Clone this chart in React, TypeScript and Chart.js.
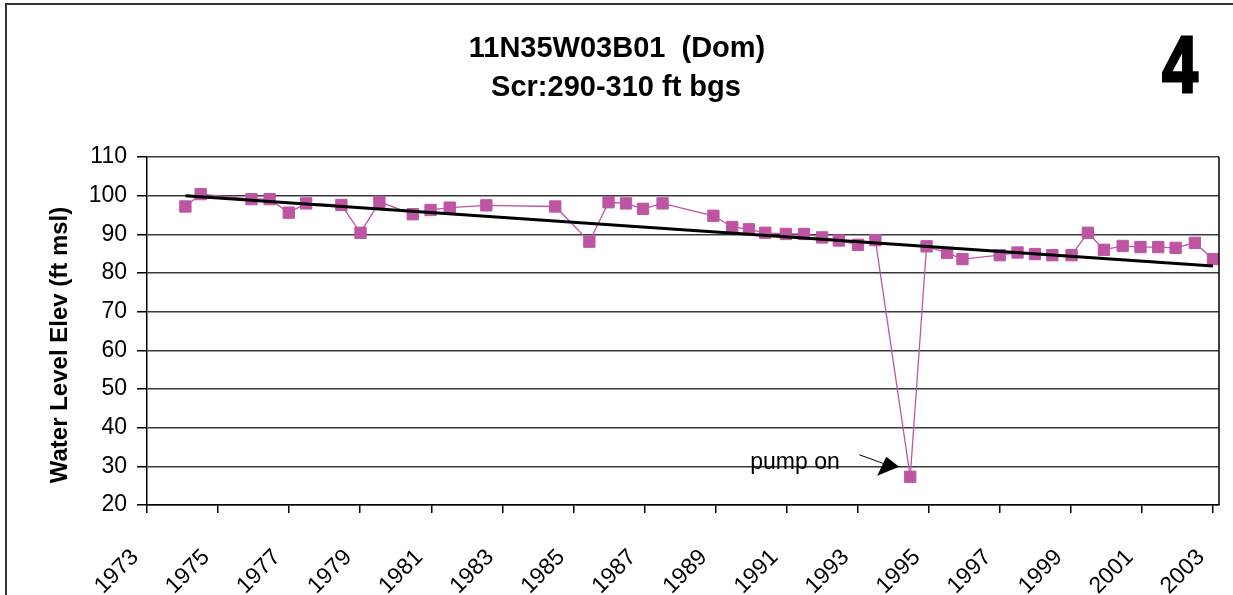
import React, { useEffect, useRef } from "react";
import { Chart, registerables } from "chart.js";

Chart.register(...registerables);

const titleLines = ["11N35W03B01  (Dom)", "Scr:290-310 ft bgs"];
const panelNumber = "4";
const yAxisTitle = "Water Level Elev (ft msl)";
const annotationText = "pump on";

const yearTicks = [1973, 1975, 1977, 1979, 1981, 1983, 1985, 1987, 1989, 1991, 1993, 1995, 1997, 1999, 2001, 2003];

const sampleYears = [
  1974.08, 1974.51, 1975.94, 1976.45, 1976.99, 1977.48, 1978.47, 1979.01, 1979.54, 1980.48,
  1980.98, 1981.52, 1982.55, 1984.49, 1985.45, 1985.99, 1986.48, 1986.96, 1987.51, 1988.94,
  1989.47, 1989.94, 1990.4, 1990.98, 1991.49, 1992.0, 1992.47, 1993.01, 1993.5, 1994.48,
  1994.94, 1995.52, 1995.95, 1997.0, 1997.5, 1997.99, 1998.48, 1999.02, 1999.48, 1999.93,
  2000.46, 2000.96, 2001.46, 2001.95, 2002.49, 2003.0,
];
const waterLevels = [
  97.2, 100.4, 99.1, 99.1, 95.6, 98.0, 97.6, 90.4, 98.4, 95.2,
  96.3, 96.9, 97.5, 97.2, 88.1, 98.3, 98.0, 96.6, 98.0, 94.8,
  91.9, 91.3, 90.4, 90.1, 90.1, 89.2, 88.4, 87.3, 88.5, 27.3,
  86.9, 85.2, 83.6, 84.6, 85.3, 84.9, 84.6, 84.6, 90.4, 86.0,
  87.0, 86.7, 86.7, 86.5, 87.8, 83.6,
];
const pumpOnIndex = 29;

const trendYears = [1974.08, 2003.0];
const trendLevels = [100.0, 81.8];

const FONT = "'Liberation Sans', Arial, Helvetica, sans-serif";
const SERIES_COLOR = "#BE55A3";

export default function App() {
  const canvasRef = useRef<HTMLCanvasElement | null>(null);

  useEffect(() => {
    document.body.style.margin = "0";
    const canvas = canvasRef.current;
    if (!canvas) return;

    const decorPlugin = {
      id: "decor",
      beforeDraw(chart: any) {
        const ctx = chart.ctx;
        ctx.save();
        ctx.fillStyle = "#ffffff";
        ctx.fillRect(0, 0, chart.width, chart.height);
        ctx.restore();
      },
      afterDraw(chart: any) {
        const ctx = chart.ctx;
        const area = chart.chartArea;
        ctx.save();
        // frame
        ctx.strokeStyle = "#333333";
        ctx.lineWidth = 2;
        ctx.beginPath();
        ctx.moveTo(6, chart.height);
        ctx.lineTo(6, 4);
        ctx.lineTo(chart.width, 4);
        ctx.stroke();

        // plot area right border
        ctx.strokeStyle = "#000000";
        ctx.lineWidth = 1.5;
        ctx.beginPath();
        ctx.moveTo(area.right, area.top);
        ctx.lineTo(area.right, area.bottom);
        ctx.stroke();

        // title
        ctx.fillStyle = "#000000";
        ctx.textAlign = "center";
        ctx.textBaseline = "alphabetic";
        ctx.font = `bold 29px ${FONT}`;
        ctx.fillText(titleLines[0], 617, 57);
        ctx.fillText(titleLines[1], 616, 96);

        // panel number
        ctx.save();
        ctx.translate(1180, 92);
        ctx.scale(0.8, 1);
        ctx.font = `bold 80px ${FONT}`;
        ctx.lineWidth = 3;
        ctx.strokeStyle = "#000";
        ctx.textAlign = "center";
        ctx.fillText(panelNumber, 0, 0);
        ctx.strokeText(panelNumber, 0, 0);
        ctx.restore();

        // y axis title
        ctx.save();
        ctx.translate(60, 345);
        ctx.rotate(-Math.PI / 2);
        ctx.font = `bold 24px ${FONT}`;
        ctx.textAlign = "center";
        ctx.textBaseline = "middle";
        ctx.fillText(yAxisTitle, 0, 0);
        ctx.restore();

        // annotation
        const xs = chart.scales.x;
        const ys = chart.scales.y;
        const px = xs.getPixelForValue(sampleYears[pumpOnIndex]);
        const py = ys.getPixelForValue(waterLevels[pumpOnIndex]);
        ctx.font = `23px ${FONT}`;
        ctx.textAlign = "left";
        ctx.textBaseline = "alphabetic";
        ctx.fillText(annotationText, px - 160, py - 8);
        ctx.strokeStyle = "#000";
        ctx.lineWidth = 1;
        ctx.beginPath();
        ctx.moveTo(px - 51, py - 22);
        ctx.lineTo(px - 26, py - 13);
        ctx.stroke();
        ctx.beginPath();
        ctx.moveTo(px - 11, py - 10);
        ctx.lineTo(px - 33, py - 1);
        ctx.lineTo(px - 24, py - 20);
        ctx.closePath();
        ctx.fill();
        ctx.restore();
      },
    };

    const chart = new Chart(canvas, {
      type: "line",
      data: {
        datasets: [
          {
            label: "trend",
            data: trendYears.map((x, i) => ({ x, y: trendLevels[i] })),
            borderColor: "#000000",
            borderWidth: 3,
            pointRadius: 0,
            fill: false,
            order: 1,
          },
          {
            label: "water level",
            data: sampleYears.map((x, i) => ({ x, y: waterLevels[i] })),
            borderColor: SERIES_COLOR,
            backgroundColor: SERIES_COLOR,
            borderWidth: 1.3,
            pointStyle: "rect",
            pointRadius: 8,
            pointBorderWidth: 1,
            pointBorderColor: SERIES_COLOR,
            pointBackgroundColor: SERIES_COLOR,
            fill: false,
            tension: 0,
            order: 2,
          },
        ],
      },
      options: {
        responsive: false,
        animation: false,
        devicePixelRatio: 1,
        layout: { padding: { left: 0, top: 157, right: 14, bottom: 0 } },
        plugins: {
          legend: { display: false },
          tooltip: { enabled: false },
          title: { display: false },
        },
        scales: {
          x: {
            type: "linear",
            min: 1973,
            max: 2003.17,
            afterBuildTicks: (scale: any) => {
              scale.ticks = yearTicks.map((v) => ({ value: v }));
            },
            afterFit: (scale: any) => {
              scale.height = 90;
              scale.paddingLeft = 0;
              scale.paddingRight = 0;
            },
            grid: {
              drawOnChartArea: false,
              drawTicks: true,
              tickLength: 8,
              tickColor: "#000",
              lineWidth: 1.5,
            },
            border: { display: true, color: "#000", width: 1.5 },
            ticks: {
              autoSkip: false,
              maxRotation: 45,
              minRotation: 45,
              padding: 31,
              labelOffset: -12,
              color: "#000",
              font: { family: FONT, size: 23 },
              callback: (v: any) => String(v),
            },
          },
          y: {
            min: 20,
            max: 110,
            afterFit: (scale: any) => {
              scale.width = 147;
              scale.paddingTop = 0;
              scale.paddingBottom = 0;
            },
            grid: {
              drawOnChartArea: true,
              color: "#3a3a3a",
              lineWidth: 1.5,
              tickLength: 10,
              tickColor: "#000",
            },
            border: { display: true, color: "#000", width: 1.5 },
            ticks: {
              stepSize: 10,
              padding: 10,
              color: "#000",
              font: { family: FONT, size: 23 },
            },
          },
        },
      },
      plugins: [decorPlugin],
    } as any);

    return () => chart.destroy();
  }, []);

  return (
    <div style={{ width: 1233, height: 595 }}>
      <canvas ref={canvasRef} width={1233} height={595} style={{ display: "block", width: 1233, height: 595 }} />
    </div>
  );
}
